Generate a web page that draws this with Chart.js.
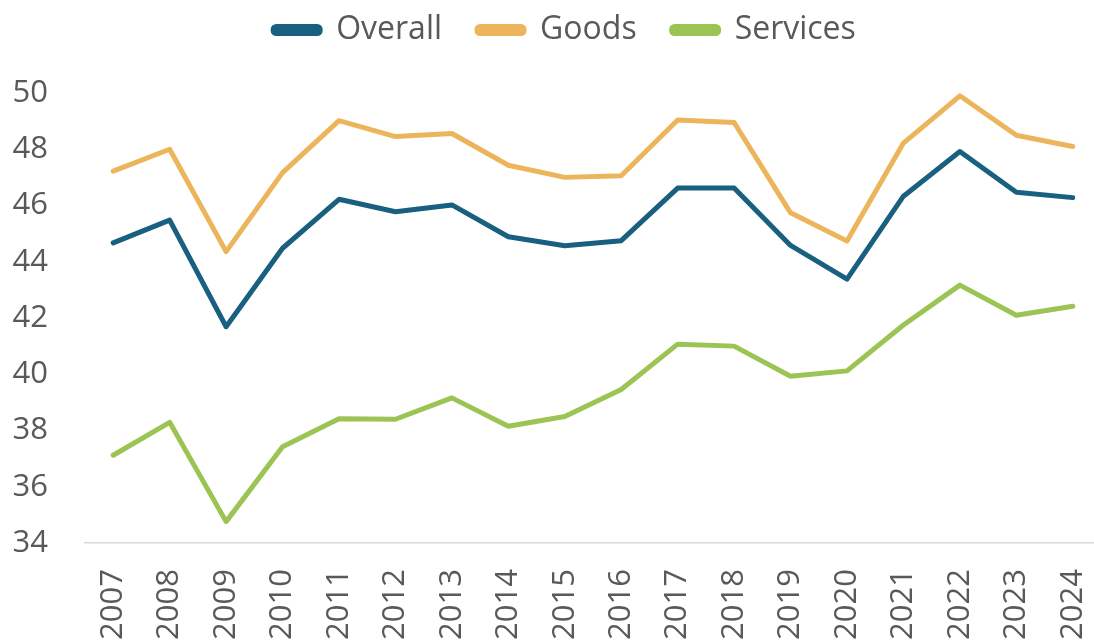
<!DOCTYPE html>
<html>
<head>
<meta charset="utf-8">
<script src="https://cdn.jsdelivr.net/npm/chart.js@4"></script>
<style>
  html, body { margin: 0; padding: 0; background: #fff; overflow: hidden; }
  #wrap { width: 1101px; height: 640px; }
</style>
</head>
<body>
<div id="wrap"><canvas id="linechart"></canvas></div>
<script>
// data
var years = ['2007','2008','2009','2010','2011','2012','2013','2014','2015','2016','2017','2018','2019','2020','2021','2022','2023','2024'];
var overall = [44.67, 45.48, 41.69, 44.48, 46.22, 45.78, 46.02, 44.89, 44.57, 44.75, 46.62, 46.62, 44.58, 43.38, 46.33, 47.92, 46.47, 46.28];
var goods = [47.22, 48.0, 44.36, 47.17, 49.02, 48.45, 48.56, 47.43, 47.0, 47.06, 49.04, 48.95, 45.74, 44.74, 48.22, 49.9, 48.5, 48.1];
var services = [37.12, 38.29, 34.76, 37.42, 38.42, 38.4, 39.16, 38.15, 38.5, 39.46, 41.07, 41.0, 39.93, 40.12, 41.75, 43.17, 42.1, 42.42];
var yTicks = [34, 36, 38, 40, 42, 44, 46, 48, 50];

var txt = '#595959';

function series(label, data, color) {
  return {
    label: label,
    data: data,
    borderColor: color,
    backgroundColor: color,
    borderWidth: 5,
    borderCapStyle: 'round',
    borderJoinStyle: 'round',
    pointRadius: 0,
    tension: 0
  };
}

// fix the legend block height so the plot starts where the reference does,
// then nudge the legend row into place
var legendPlace = {
  id: 'legendPlace',
  beforeInit: function(chart) {
    if (!chart.legend) return;
    var f = chart.legend.fit;
    chart.legend.fit = function() {
      f.call(this);
      this.height = 93;
    };
  },
  afterLayout: function(chart) {
    var lg = chart.legend;
    if (!lg) return;
    lg.top = -21;
    lg.left += 14;
    lg.right += 14;
  }
};

var lch = document.getElementById('linechart').getContext('2d');
var lchart = new Chart(lch, {
  type: 'line',
  data: {
    labels: years,
    datasets: [
      series('Overall', overall, '#185f80'),
      series('Goods', goods, '#ecb55b'),
      series('Services', services, '#9bc454')
    ]
  },
  options: {
    responsive: true,
    maintainAspectRatio: false,
    animation: false,
    layout: { padding: 0 },
    plugins: {
      tooltip: { enabled: false },
      legend: {
        position: 'top',
        labels: {
          color: txt,
          font: { family: 'Open Sans', size: 32 },
          boxWidth: 47,
          boxHeight: 7,
          padding: 35,
          useBorderRadius: true,
          borderRadius: 3
        }
      }
    },
    scales: {
      x: {
        offset: true,
        grid: { display: false, drawTicks: false },
        border: { display: true, color: '#d9d9d9', width: 1.5 },
        afterFit: function(s) {
          s.height = 97;
          s.paddingLeft = 0;
          s.paddingRight = 0;
        },
        ticks: {
          color: txt,
          font: { family: 'Open Sans', size: 31 },
          minRotation: 90,
          maxRotation: 90,
          autoSkip: false,
          padding: 26
        }
      },
      y: {
        min: 34,
        max: 50,
        grid: { display: false, drawTicks: false },
        border: { display: false },
        afterFit: function(s) { s.width = 85; },
        afterBuildTicks: function(s) { s.ticks = yTicks.map(function(v) { return { value: v }; }); },
        ticks: {
          color: txt,
          font: { family: 'Open Sans', size: 31 },
          padding: 37
        }
      }
    }
  },
  plugins: [legendPlace]
});
</script>
</body>
</html>
